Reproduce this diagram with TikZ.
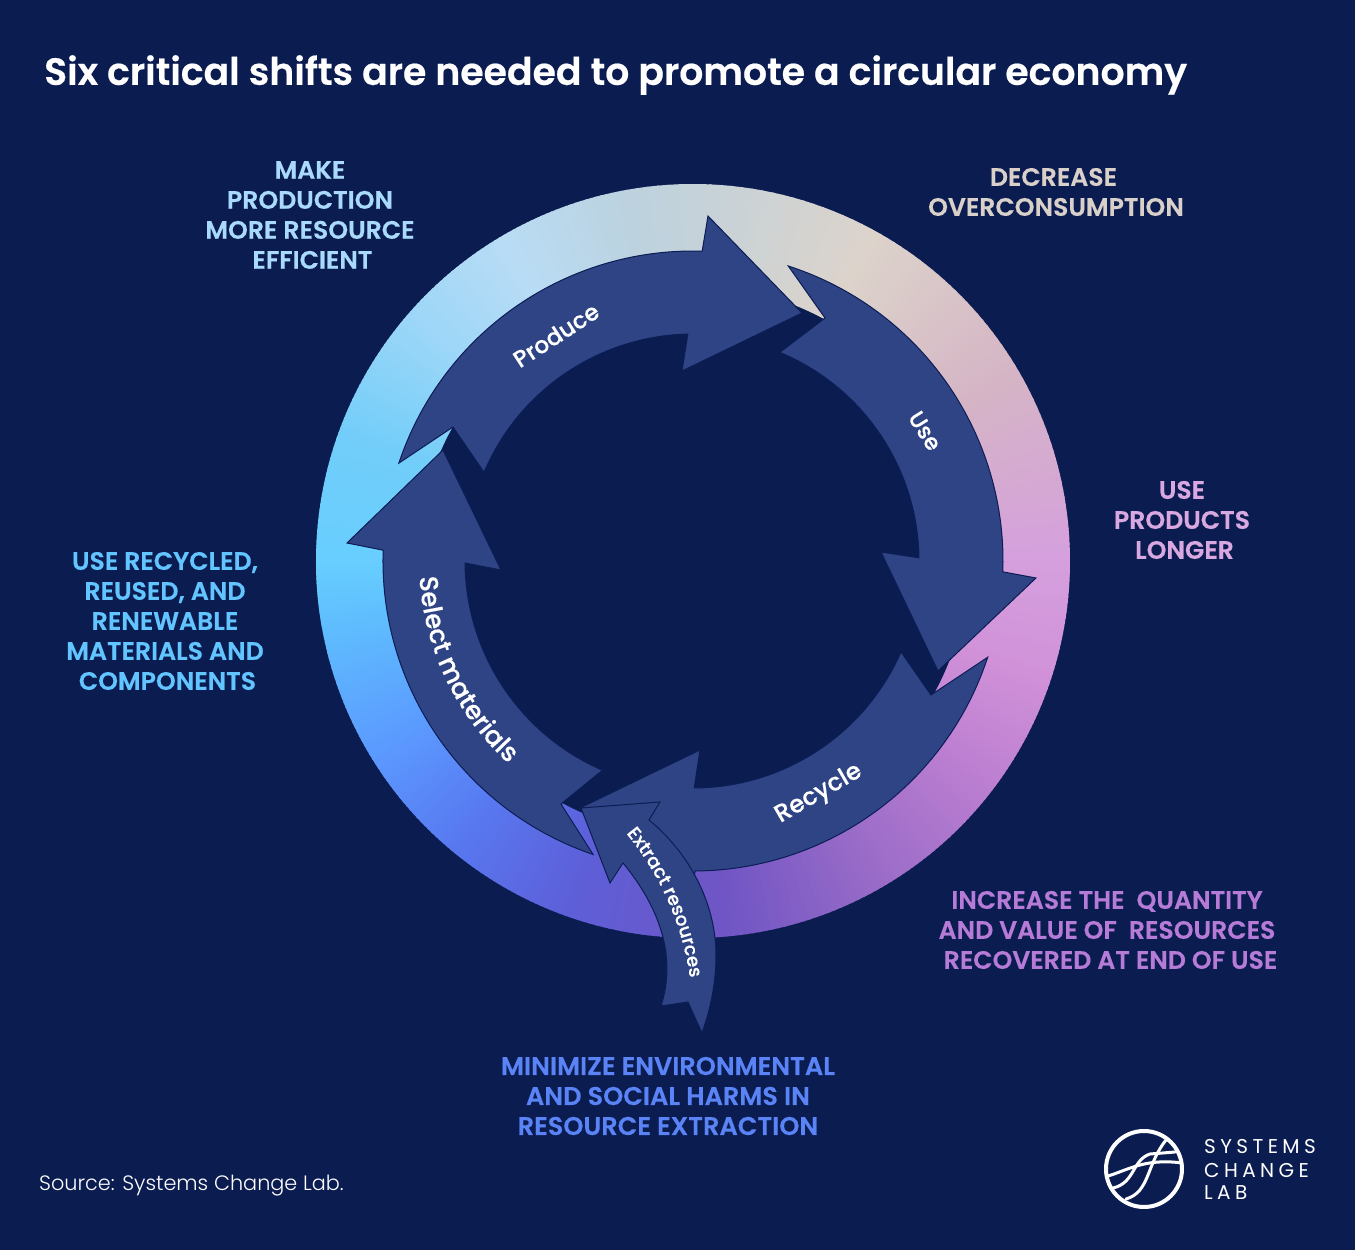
\documentclass[tikz,border=0pt]{standalone}
\usepackage{fontspec}
\setmainfont{Poppins}
\newfontfamily\psemi{Poppins SemiBold}[FakeBold=0.3]
\newfontfamily\ptitle{Poppins SemiBold}[FakeBold=0.5]
\newfontfamily\pmed{Poppins Medium}[FakeBold=0.2]
\newfontfamily\plight{Poppins Light}
\usetikzlibrary{decorations.text}
\definecolor{bg}{HTML}{0B1C51}
\definecolor{arrowfill}{HTML}{2F4484}
\definecolor{arrowline}{HTML}{0C1D55}
\definecolor{gA}{HTML}{67CEFF}\definecolor{gB}{HTML}{5FBDFE}\definecolor{gC}{HTML}{5B9BFF}
\definecolor{gD}{HTML}{5878F0}\definecolor{gE}{HTML}{5D5FD8}\definecolor{gF}{HTML}{7055C4}
\definecolor{gG}{HTML}{9A6CC8}\definecolor{gH}{HTML}{B87CD0}\definecolor{gI}{HTML}{D090D8}
\definecolor{gJ}{HTML}{D5A0DD}\definecolor{gK}{HTML}{D5B5C5}\definecolor{gL}{HTML}{DCD3CB}
\definecolor{gM}{HTML}{BCD2DF}\definecolor{gN}{HTML}{B9DCF5}\definecolor{gO}{HTML}{9AD6F8}
\definecolor{gP}{HTML}{72CDF9}
\definecolor{labA}{HTML}{A9DAFB}\definecolor{labB}{HTML}{D9D0C9}\definecolor{labC}{HTML}{DAA8E0}
\definecolor{labD}{HTML}{B57BD6}\definecolor{labE}{HTML}{5A83F6}\definecolor{labF}{HTML}{62C5FF}
\newcommand\pxc[3]{\coordinate (#1) at ({#2-693},{561-#3});}
\tikzset{
  shiftarrow/.style={fill=arrowfill,draw=arrowline,line width=1pt,line join=miter},
  shiftlabel/.style={font=\psemi\fontsize{25.2}{30}\selectfont,align=center,anchor=center,inner sep=0pt},
  arrowlabel/.style={font=\pmed\fontsize{23}{28}\selectfont,text=white,anchor=center,inner sep=0pt},
  logoline/.style={draw=white,line width=3pt,line cap=round},
  logotext/.style={anchor=west,inner sep=0pt,text=white,font=\fontsize{20}{24}\selectfont\addfontfeatures{LetterSpace=22}}
}
\begin{document}
\begin{tikzpicture}[x=1pt,y=1pt]
\useasboundingbox (-693,561) rectangle (662,-689);
\fill[bg] (-693,561) rectangle (662,-689);
% ring
\foreach \a/\b/\ca/\cb in {-180/-170/gA/gB,-170/-150/gB/gC,-150/-130/gC/gD,-130/-110/gD/gE,-110/-85/gE/gF,-85/-60/gF/gG,-60/-40/gG/gH,-40/-20/gH/gI,-20/0/gI/gJ,0/30/gJ/gK,30/60/gK/gL,60/100/gL/gM,100/120/gM/gN,120/140/gN/gO,140/160/gO/gP,160/180/gP/gA}{
  \foreach \t in {0,...,24}{
    \pgfmathsetmacro\sa{\a+(\b-\a)*\t/25}
    \pgfmathsetmacro\ea{\sa+(\b-\a)/25+0.3}
    \pgfmathtruncatemacro\q{4*\t}
    \colorlet{segc}{\cb!\q!\ca}
    \fill[segc] (0,0) -- (\sa:377) arc[start angle=\sa,end angle=\ea,radius=377] -- cycle;
  }
}
\fill[bg] (0,0) circle[radius=275];
% Produce
\pxc{pa}{708}{216}\pxc{pb}{802}{313}\pxc{pc}{682}{371}\pxc{pd}{453}{427}
\draw[shiftarrow] (161.6:310) arc[start angle=161.6,end angle=88.3,radius=310] -- (pa) -- (pb) -- (pc) -- (91.3:227) arc[start angle=91.3,end angle=157,radius=227] -- (pd) -- cycle;
% Use
\pxc{ua}{825}{318}\pxc{ub}{1036}{578}\pxc{uc}{938}{671}\pxc{ud}{881}{552}
\draw[shiftarrow] (72.1:310) arc[start angle=72.1,end angle=-2,radius=310] -- (ub) -- (uc) -- (ud) -- (0.8:226) arc[start angle=0.8,end angle=67.4,radius=226] -- (ua) -- cycle;
% Recycle
\pxc{ra}{931}{695}\pxc{rb}{688}{908}\pxc{rc}{582}{807}\pxc{rd}{700}{750}
\draw[shiftarrow] (-18.1:310) arc[start angle=-18.1,end angle=-89.6,radius=310] -- (rb) -- (rc) -- (rd) -- (-89.7:227) arc[start angle=-89.7,end angle=-23.6,radius=227] -- (ra) -- cycle;
% Select materials
\pxc{sa}{561}{804}\pxc{sb}{347}{543}\pxc{sc}{443}{450}\pxc{sd}{501}{570}
\draw[shiftarrow] (-108.8:310) arc[start angle=-108.8,end angle=-182,radius=310] -- (sb) -- (sc) -- (sd) -- (-179.5:228) arc[start angle=-179.5,end angle=-113.4,radius=228] -- (sa) -- cycle;
% Extract resources
\pxc{ea}{581}{808}\pxc{eb}{660}{802}\pxc{ec}{649}{820}\pxc{ed}{695}{858}\pxc{ee}{716}{910}\pxc{ef}{716}{955}
\pxc{eg}{716}{985}\pxc{eh}{710}{1010}\pxc{ei}{702}{1033}\pxc{ej}{688}{1002}\pxc{ek}{661}{1006}
\pxc{el}{671}{975}\pxc{em}{674}{925}\pxc{en}{623}{863}\pxc{eo}{610}{883}
\draw[shiftarrow] (ea) -- (eb) -- (ec) .. controls (ed) and (ee) .. (ef) .. controls (eg) and (eh) .. (ei) -- (ej) -- (ek) .. controls (el) and (em) .. (en) -- (eo) -- cycle;
% arrow labels
\pxc{tp}{556}{335}\node[arrowlabel,rotate=33,font=\pmed\fontsize{23.3}{28}\selectfont] (produce) at (tp) {Produce};
\pxc{tu}{925}{431}\node[arrowlabel,rotate=-58,font=\pmed\fontsize{22.5}{26}\selectfont] (use) at (tu) {Use};
\pxc{tr}{819}{794}\node[arrowlabel,rotate=30,font=\pmed\fontsize{24.5}{28}\selectfont] (recycle) at (tr) {Recycle};
\path[decorate,decoration={text along path,text align=center,text={|\pmed\fontsize{26}{28}\selectfont\color{white}|Select materials}}] (175:274) arc[start angle=175,end angle=236,radius=274];
\pxc{xa}{621}{827}\pxc{xb}{656}{868}\pxc{xc}{683}{920}\pxc{xd}{691}{986}
\path[decorate,decoration={text along path,text align=center,text={|\pmed\fontsize{18.5}{20}\selectfont\color{white}|Extract resources}}] (xa) .. controls (xb) and (xc) .. (xd);
% shift labels
\pxc{la}{310}{215}\node[shiftlabel,text=labA] (make) at (la) {MAKE\\PRODUCTION\\MORE RESOURCE\\\hspace*{5pt}EFFICIENT};
\pxc{lb}{1056}{192}\node[shiftlabel,text=labB] (decrease) at (lb) {DECREASE\hspace*{5pt}\\OVERCONSUMPTION};
\pxc{lc}{1182}{520}\node[shiftlabel,text=labC] (longer) at (lc) {USE\\PRODUCTS\\\hspace*{5pt}LONGER};
\pxc{ld}{1107}{930}\node[shiftlabel,text=labD] (increase) at (ld) {INCREASE THE\ \ QUANTITY\\AND VALUE OF\ \ RESOURCES\\\hspace*{7pt}RECOVERED AT END OF USE};
\pxc{le}{668}{1096}\node[shiftlabel,text=labE,font=\psemi\fontsize{25.6}{30}\selectfont] (minimize) at (le) {MINIMIZE ENVIRONMENTAL\\AND SOCIAL HARMS IN\\RESOURCE EXTRACTION};
\pxc{lf}{165}{621}\node[shiftlabel,text=labF] (recycled) at (lf) {USE RECYCLED,\\REUSED, AND\\RENEWABLE\\MATERIALS AND\\\hspace*{5pt}COMPONENTS};
% title and source
\pxc{ti}{44}{75}\node[anchor=west,inner sep=0pt,text=white,font=\ptitle\fontsize{37.8}{44}\selectfont] (title) at (ti) {Six critical shifts are needed to promote a circular economy};
\pxc{so}{39}{1186}\node[anchor=west,inner sep=0pt,text=white,font=\plight\fontsize{20.8}{24}\selectfont] (source) at (so) {Source: Systems Change Lab.};
% logo
\pxc{lo}{1144}{1169}
\draw[draw=white,line width=4pt] (lo) circle[radius=38];
\pxc{a1}{1108}{1176}\pxc{a2}{1128}{1170}\pxc{a3}{1145}{1158}\pxc{a4}{1182}{1163}
\draw[logoline] (a1) .. controls (a2) and (a3) .. (a4);
\pxc{b1}{1113}{1188}\pxc{b2}{1135}{1183}\pxc{b3}{1132}{1160}\pxc{b4}{1150}{1154}\pxc{b5}{1175}{1152}
\draw[logoline] (b1) .. controls (b2) and (b3) .. (b4) -- (b5);
\pxc{c1}{1126}{1199}\pxc{c2}{1150}{1192}\pxc{c3}{1146}{1165}\pxc{c4}{1166}{1140}
\draw[logoline] (c1) .. controls (c2) and (c3) .. (c4);
\pxc{g1}{1204}{1147}\node[logotext] (lsys) at (g1) {SYSTEMS};
\pxc{g2}{1204}{1170}\node[logotext] (lcha) at (g2) {CHANGE};
\pxc{g3}{1204}{1193}\node[logotext] (llab) at (g3) {LAB};
\end{tikzpicture}
\end{document}
